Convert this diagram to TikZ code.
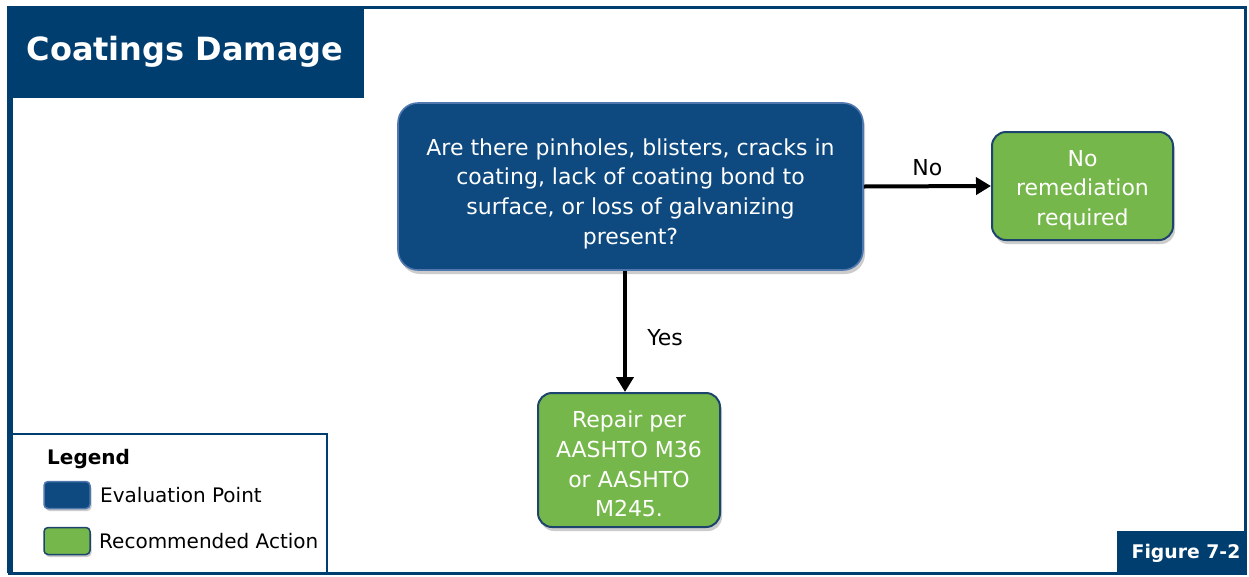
\documentclass[tikz,border=0pt]{standalone}
\usepackage{fontspec}
\setmainfont{DejaVu Sans}
\usetikzlibrary{shadows,arrows.meta}
\definecolor{navy}{RGB}{0,62,112}
\definecolor{evalfill}{RGB}{14,74,128}
\definecolor{evaledge}{RGB}{80,120,175}
\definecolor{actfill}{RGB}{118,183,75}
\definecolor{actedge}{RGB}{28,68,108}
\tikzset{
  x=1pt, y=-1pt,
  evalbox/.style={draw=evaledge, line width=1.6pt, fill=evalfill, rounded corners=20pt,
    drop shadow={opacity=0.4, shadow xshift=2pt, shadow yshift=-4pt}, inner sep=0pt},
  actbox/.style={draw=actedge, line width=2pt, fill=actfill, rounded corners=14pt,
    drop shadow={opacity=0.4, shadow xshift=2pt, shadow yshift=-4pt}, inner sep=0pt},
  boxtext/.style={text=white, align=center, inner sep=0pt, font=\fontsize{22}{29.7}\selectfont},
  swatch/.style={draw=actedge, line width=1.5pt, rounded corners=4pt,
    drop shadow={opacity=0.4, shadow xshift=1.5pt, shadow yshift=-2.5pt},
    minimum width=46pt, minimum height=27pt, inner sep=0pt},
  flow/.style={-{Triangle[length=15pt,width=17pt]}, line width=4pt, black},
  lbl/.style={font=\fontsize{22}{24}\selectfont, text=black},
  legtext/.style={font=\fontsize{20}{22}\selectfont, text=black, anchor=west, inner sep=0pt},
}
\begin{document}
\begin{tikzpicture}
\useasboundingbox (0,0) rectangle (1249,576);
\fill[white] (0,0) rectangle (1249,576);

% outer frame
\draw[navy, line width=3pt] (9,7) rectangle (1245,573);
\fill[navy] (7,7) rectangle (13,573);

% title tab
\fill[navy] (7,6) rectangle (364,98);
\node[text=white, font=\bfseries\fontsize{32}{34}\selectfont] (title) at (185,52) {Coatings Damage};

% flowchart boxes
\node[evalbox, minimum width=465pt, minimum height=167pt] (q) at (630.5,186.5) {};
\node[boxtext] (qtext) at ([yshift=-7pt]q.center)
  {Are there pinholes, blisters, cracks in\\coating, lack of coating bond to\\surface, or loss of galvanizing\\present?};
\node[actbox, minimum width=181pt, minimum height=108pt] (none) at (1082.5,186) {};
\node[boxtext] (nonetext) at ([yshift=-4pt]none.center) {No\\remediation\\required};
\node[actbox, minimum width=182pt, minimum height=134pt] (repair) at (629,460) {};
\node[boxtext] (repairtext) at ([yshift=-4pt]repair.center) {Repair per\\AASHTO M36\\or AASHTO\\M245.};

% connectors
\draw[flow] (q.east) -- (none.west) node[lbl, midway, above=5pt] (no) {No};
\draw[flow] ([xshift=-4pt]repair.north |- q.south) -- ([xshift=-4pt]repair.north)
  node[lbl, pos=0.55, right=17pt] (yes) {Yes};

% legend
\draw[navy, line width=2.5pt] (11,434) -- (327,434) -- (327,573);
\node[font=\bfseries\fontsize{20}{22}\selectfont, anchor=west, inner sep=0pt] (leg) at (47,459) {Legend};
\node[swatch, draw=evaledge, fill=evalfill] (sw1) at (67,495) {};
\node[legtext] (t1) at (100,495) {Evaluation Point};
\node[swatch, fill=actfill] (sw2) at (67,541) {};
\node[legtext] (t2) at (99,541) {Recommended Action};

% figure number tab
\fill[navy] (1117,531) rectangle (1245,573);
\node[text=white, font=\bfseries\fontsize{18.8}{20}\selectfont] (fig) at (1186,553) {Figure 7-2};
\end{tikzpicture}
\end{document}
